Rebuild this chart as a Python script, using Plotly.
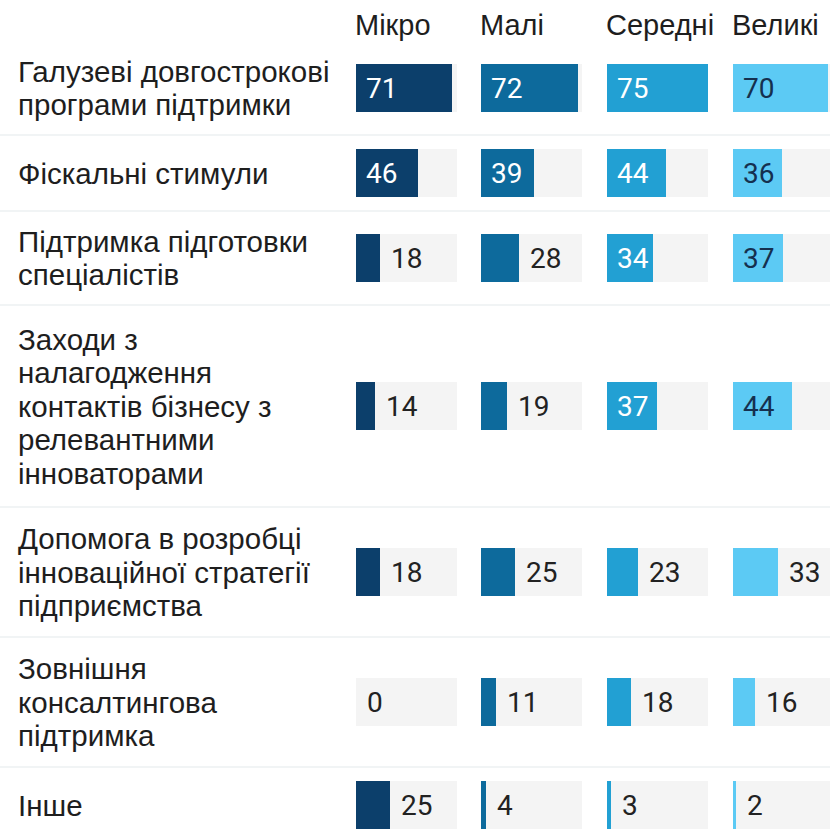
import plotly.graph_objects as go

# ---- data ----
categories = [
    "Галузеві довгострокові<br>програми підтримки",
    "Фіскальні стимули",
    "Підтримка підготовки<br>спеціалістів",
    "Заходи з<br>налагодження<br>контактів бізнесу з<br>релевантними<br>інноваторами",
    "Допомога в розробці<br>інноваційної стратегії<br>підприємства",
    "Зовнішня<br>консалтингова<br>підтримка",
    "Інше",
]
series_names = ["Мікро", "Малі", "Середні", "Великі"]
mikro = [71, 46, 18, 14, 18, 0, 25]
mali = [72, 39, 28, 19, 25, 11, 4]
seredni = [75, 44, 34, 37, 23, 18, 3]
velyki = [70, 36, 37, 44, 33, 16, 2]
series_values = [mikro, mali, seredni, velyki]
background_max = 75

# ---- styles ----
W, H = 830, 832
colors = ["#0c3f6b", "#0d6a9c", "#22a0d3", "#5ccaf4"]
inside_text_colors = ["white", "white", "white", "#15304f"]
outside_text_color = "#222222"
bg_color = "#f4f4f4"
px_per_unit = 1.35
col_starts = [356, 481, 607, 733]
col_width = 124
label_font = dict(family="Liberation Sans, Arial, sans-serif", size=29.5, color="#1e1e1e")
header_font = dict(family="Liberation Sans, Arial, sans-serif", size=29, color="#1e1e1e")
value_font_family = "Roboto, Liberation Sans, sans-serif"
value_size = 28
line_step = 33.5

# ---- row layout from label line counts ----
top = 41
centers, bounds, label_lines = [], [], []
y = top
for c in categories:
    parts = c.split("<br>")
    label_lines.append(parts)
    h = max(22 + 36 * len(parts), 76)
    centers.append(y + h / 2)
    y += h
    bounds.append(y)

fig = go.Figure()
annotations = []
for j, (name, vals) in enumerate(zip(series_names, series_values)):
    xa = "x" if j == 0 else f"x{j+1}"
    start = col_starts[j]
    end = min(start + col_width, W)
    fig.add_trace(go.Bar(
        x=[background_max] * len(vals), y=centers, orientation="h",
        width=48, marker=dict(color=bg_color, line=dict(width=0)),
        xaxis=xa, yaxis="y", hoverinfo="skip", showlegend=False))
    fig.add_trace(go.Bar(
        x=vals, y=centers, orientation="h", width=48, name=name,
        marker=dict(color=colors[j], line=dict(width=0)),
        xaxis=xa, yaxis="y", showlegend=False))
    axis_key = "xaxis" if j == 0 else f"xaxis{j+1}"
    fig.update_layout(**{axis_key: dict(
        domain=[start / W, end / W], range=[0, (end - start) / px_per_unit],
        visible=False, fixedrange=True, anchor="y")})
    annotations.append(dict(
        x=0, y=25, xref=xa, yref="y", text=name, showarrow=False,
        xanchor="left", yanchor="middle", xshift=-3, font=header_font))
    for v, yc in zip(vals, centers):
        inside = v >= 34
        annotations.append(dict(
            x=0 if inside else v, y=yc, xref=xa, yref="y", text=str(v),
            showarrow=False, xanchor="left", yanchor="middle",
            xshift=8 if inside else 9,
            font=dict(family=value_font_family, size=value_size,
                      color=inside_text_colors[j] if inside else outside_text_color)))

for parts, yc in zip(label_lines, centers):
    n = len(parts)
    for i, t in enumerate(parts):
        annotations.append(dict(
            x=16 / W, y=yc + (i - (n - 1) / 2) * line_step, xref="paper", yref="y",
            text=t, showarrow=False, xanchor="left", yanchor="middle",
            align="left", font=label_font))

shapes = [dict(type="line", xref="paper", yref="y", x0=0, x1=1, y0=b, y1=b,
               line=dict(color="#edf0f2", width=1.5), layer="below")
          for b in bounds[:-1]]

fig.update_layout(
    width=W, height=H, margin=dict(l=0, r=0, t=0, b=0),
    paper_bgcolor="white", plot_bgcolor="white",
    barmode="overlay", bargap=0,
    yaxis=dict(range=[H, 0], domain=[0, 1], visible=False, fixedrange=True),
    annotations=annotations, shapes=shapes,
)

fig.write_html("out.html", config={"displayModeBar": False},
               post_script="document.body.style.margin='0';")
